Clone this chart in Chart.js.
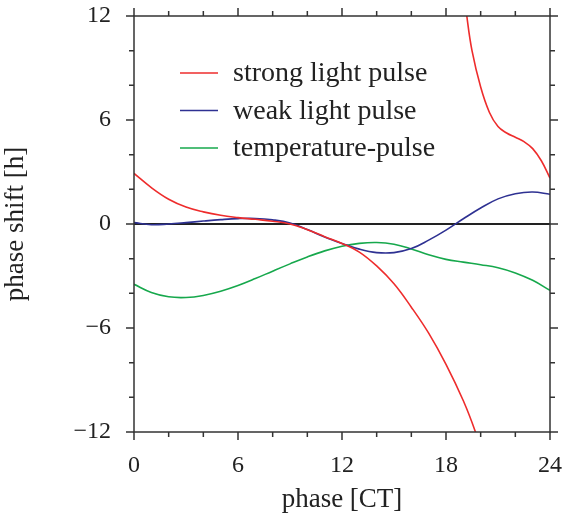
<!DOCTYPE html>
<html>
<head>
<meta charset="utf-8">
<script src="https://cdn.jsdelivr.net/npm/chart.js@4/dist/chart.umd.min.js"></script>
<style>
  body { margin: 0; background: #fff; }
</style>
</head>
<body>
<canvas id="myChart" width="575" height="521"></canvas>
<script>
// DATOS (phase en CT, phase shift en h)
const fase = [0,1,2,3,4,5,6,7,8,9,10,11,12,13,14,15,16,17,18,19,20,21,22,23,24];

// strong light pulse: rama inferior y rama superior (salto en ~CT 19.5)
const faseFuerteA = [0,1,2,3,4,5,6,7,8,9,10,11,12,13,14,15,16,17,18,19,19.7,20.2];
const fuerteA = [2.92,2.1,1.43,0.98,0.7,0.5,0.37,0.27,0.16,0.0,-0.33,-0.73,-1.12,-1.62,-2.42,-3.45,-4.8,-6.3,-8.1,-10.2,-12.0,-13.6];
const faseFuerteB = [19.1,19.2,19.5,20,20.5,21,21.5,22,22.5,23,23.5,24];
const fuerteB = [13.0,12.0,10.0,7.9,6.45,5.62,5.25,5.0,4.75,4.35,3.65,2.65];

const debil = [0.08,-0.04,0.0,0.08,0.17,0.25,0.31,0.32,0.24,0.06,-0.32,-0.75,-1.12,-1.45,-1.65,-1.65,-1.42,-0.93,-0.35,0.3,0.92,1.45,1.75,1.85,1.72];
const temperatura = [-3.48,-3.95,-4.2,-4.24,-4.12,-3.88,-3.55,-3.15,-2.72,-2.3,-1.9,-1.55,-1.28,-1.12,-1.07,-1.17,-1.44,-1.78,-2.04,-2.2,-2.35,-2.52,-2.82,-3.25,-3.83];

const etiquetas = ["strong light pulse", "weak light pulse", "temperature-pulse"];
const colores = ["#ee2c2c", "#2e3192", "#16a84c"];

const fuente = "'Liberation Serif', 'Times New Roman', serif";
const colorTexto = "#222";

function puntos(xs, ys) {
  return xs.map((x, i) => ({ x: x, y: ys[i] }));
}

// linea del cero
const lineaCero = {
  id: "lineaCero",
  beforeDatasetsDraw(chart) {
    const { ctx, chartArea, scales } = chart;
    const y = scales.y.getPixelForValue(0);
    ctx.save();
    ctx.strokeStyle = "#222";
    ctx.lineWidth = 2;
    ctx.beginPath();
    ctx.moveTo(chartArea.left, y);
    ctx.lineTo(chartArea.right, y);
    ctx.stroke();
    ctx.restore();
  }
};

// marco y ticks (mayores cada 6, menores cada 2) hacia afuera
const marco = {
  id: "marco",
  afterDraw(chart) {
    const { ctx, chartArea, scales } = chart;
    const { left, right, top, bottom } = chartArea;
    ctx.save();
    ctx.strokeStyle = "#333";
    ctx.lineWidth = 1.5;
    ctx.strokeRect(left, top, right - left, bottom - top);
    for (let v = 0; v <= 24; v += 2) {
      const largo = v % 6 === 0 ? 8 : 5;
      const x = scales.x.getPixelForValue(v);
      ctx.beginPath();
      ctx.moveTo(x, bottom); ctx.lineTo(x, bottom + largo);
      ctx.moveTo(x, top); ctx.lineTo(x, top - largo);
      ctx.stroke();
    }
    for (let v = -12; v <= 12; v += 2) {
      const largo = v % 6 === 0 ? 8 : 5;
      const y = scales.y.getPixelForValue(v);
      ctx.beginPath();
      ctx.moveTo(left, y); ctx.lineTo(left - largo, y);
      ctx.moveTo(right, y); ctx.lineTo(right + largo, y);
      ctx.stroke();
    }
    ctx.restore();
  }
};

// leyenda dentro del area
const leyenda = {
  id: "leyenda",
  afterDraw(chart) {
    const { ctx } = chart;
    ctx.save();
    ctx.font = "28px " + fuente;
    ctx.textBaseline = "middle";
    ctx.fillStyle = colorTexto;
    let y = 73;
    chart.data.datasets.forEach(ds => {
      if (ds.sinLeyenda) return;
      ctx.strokeStyle = ds.borderColor;
      ctx.lineWidth = 1.6;
      ctx.beginPath();
      ctx.moveTo(180, y);
      ctx.lineTo(218, y);
      ctx.stroke();
      ctx.fillText(ds.label, 233, y + 1);
      y += 37.5;
    });
    ctx.restore();
  }
};

const estiloLinea = {
  pointRadius: 0,
  borderWidth: 1.6,
  tension: 0.4,
  fill: false
};

const config = {
  type: "line",
  data: {
    datasets: [
      { label: etiquetas[0], data: puntos(faseFuerteA, fuerteA), borderColor: colores[0], ...estiloLinea },
      { label: etiquetas[1], data: puntos(fase, debil), borderColor: colores[1], ...estiloLinea },
      { label: etiquetas[2], data: puntos(fase, temperatura), borderColor: colores[2], ...estiloLinea },
      { label: etiquetas[0], data: puntos(faseFuerteB, fuerteB), borderColor: colores[0], sinLeyenda: true, ...estiloLinea }
    ]
  },
  options: {
    responsive: false,
    animation: false,
    devicePixelRatio: 1,
    layout: { padding: { top: 16, right: 25, left: 0, bottom: 0 } },
    plugins: {
      legend: { display: false },
      tooltip: { enabled: false }
    },
    scales: {
      x: {
        type: "linear",
        min: 0,
        max: 24,
        afterFit(scale) {
          scale.height = 89;
          scale.paddingLeft = 0;
          scale.paddingRight = 0;
        },
        grid: { display: false, drawTicks: false },
        border: { display: false },
        ticks: {
          stepSize: 6,
          padding: 19,
          color: colorTexto,
          font: { family: fuente, size: 24 }
        },
        title: {
          display: true,
          text: "phase [CT]",
          color: colorTexto,
          font: { family: fuente, size: 27 },
          padding: { top: 0, bottom: 5 }
        }
      },
      y: {
        min: -12,
        max: 12,
        afterFit(scale) {
          scale.width = 134;
          scale.paddingTop = 0;
          scale.paddingBottom = 0;
        },
        grid: { display: false, drawTicks: false },
        border: { display: false },
        ticks: {
          stepSize: 6,
          padding: 23,
          color: colorTexto,
          font: { family: fuente, size: 24 },
          callback: v => v < 0 ? "\u2212" + Math.abs(v) : String(v)
        },
        title: {
          display: true,
          text: "phase shift [h]",
          color: colorTexto,
          font: { family: fuente, size: 27 },
          padding: { top: 0, bottom: 12 }
        }
      }
    }
  },
  plugins: [lineaCero, marco, leyenda]
};

const myChart = new Chart(document.getElementById("myChart"), config);
</script>
</body>
</html>
